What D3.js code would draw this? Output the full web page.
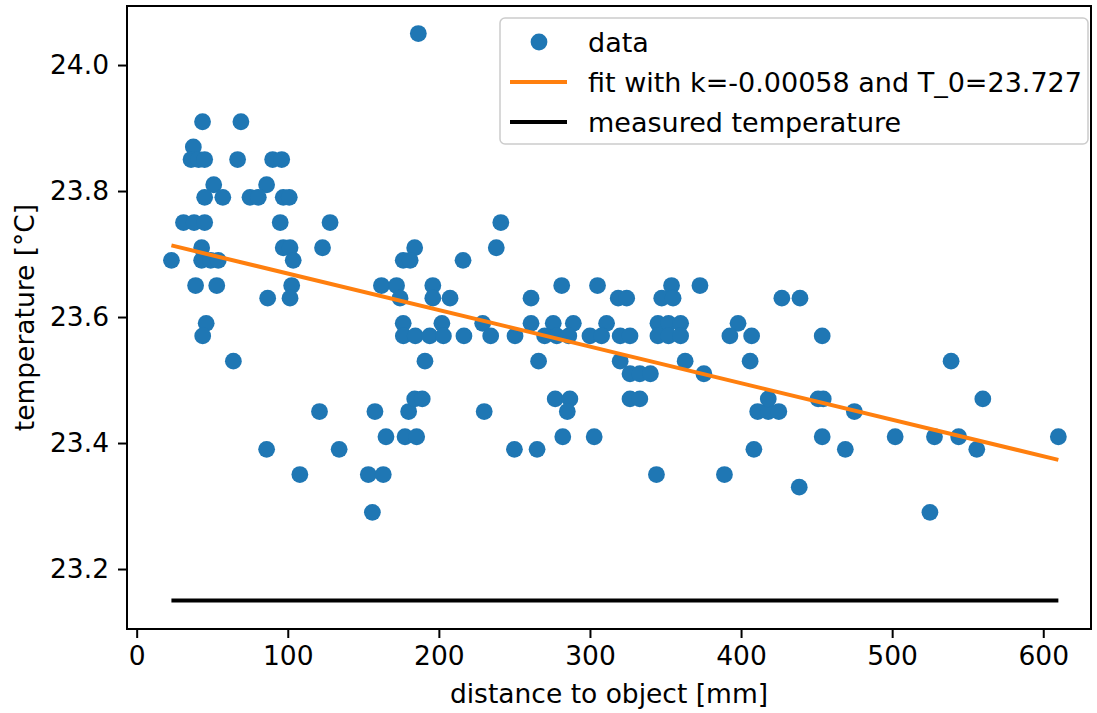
<!DOCTYPE html>
<html>
<head>
<meta charset="utf-8">
<script src="https://cdn.jsdelivr.net/npm/d3@7"></script>
<style>
  html, body { margin: 0; padding: 0; background: #fff; }
  svg { display: block; font-family: "DejaVu Sans", sans-serif; }
</style>
</head>
<body>
<svg id="chart" width="1097" height="713"></svg>
<script>
// Measured points: distance to object [mm] and temperature [°C]
const distance = [
  23, 37.5, 36, 41, 45, 43.6, 69, 66.8, 90, 96,
  51, 86, 45, 57, 75, 80.5, 97, 101, 31, 38,
  45, 95, 128, 43, 97, 101.5, 123, 43, 49, 54,
  103.6, 39, 53, 102.6, 86.7, 101.5, 46, 43.7, 64, 121,
  86, 108,
  186.4, 241, 238, 184, 176.4, 181, 216, 162, 172, 174.3,
  196, 196, 207.4, 176.4, 202, 229, 176.5, 184.4, 194, 203,
  216.6, 234.3, 250.4, 190.8, 157.7, 180, 184, 189, 230, 165,
  177.6, 185.3, 134, 153.3, 163.2, 156,
  261, 281.3, 305, 318.7, 324.3, 354, 347.5, 355, 372.8, 261,
  275.7, 289, 270, 278, 286, 311, 300, 307.7, 320, 326.5,
  345, 352, 360, 345, 352, 360, 398, 392.6, 407, 266,
  320, 363, 406, 326.5, 333, 340, 375.4, 277, 286.7, 285,
  326.5, 333, 282, 302.8, 250, 265, 408.5, 344, 389,
  427, 439, 453.7, 539, 411, 418, 425, 418, 451, 454.4,
  475, 560, 453.7, 469, 502, 528, 544, 556, 610, 438.5,
  525
];
const temperature = [
  23.69, 23.87, 23.85, 23.85, 23.85, 23.91, 23.91, 23.85, 23.85, 23.85,
  23.81, 23.81, 23.79, 23.79, 23.79, 23.79, 23.79, 23.79, 23.75, 23.75,
  23.75, 23.75, 23.75, 23.71, 23.71, 23.71, 23.71, 23.69, 23.69, 23.69,
  23.69, 23.65, 23.65, 23.65, 23.63, 23.63, 23.59, 23.57, 23.53, 23.45,
  23.39, 23.35,
  24.05, 23.75, 23.71, 23.71, 23.69, 23.69, 23.69, 23.65, 23.65, 23.63,
  23.65, 23.63, 23.63, 23.59, 23.59, 23.59, 23.57, 23.57, 23.57, 23.57,
  23.57, 23.57, 23.57, 23.53, 23.45, 23.45, 23.47, 23.47, 23.45, 23.41,
  23.41, 23.41, 23.39, 23.35, 23.35, 23.29,
  23.63, 23.65, 23.65, 23.63, 23.63, 23.65, 23.63, 23.63, 23.65, 23.59,
  23.59, 23.59, 23.57, 23.57, 23.57, 23.59, 23.57, 23.57, 23.57, 23.57,
  23.59, 23.59, 23.59, 23.57, 23.57, 23.57, 23.59, 23.57, 23.57, 23.53,
  23.53, 23.53, 23.53, 23.51, 23.51, 23.51, 23.51, 23.47, 23.47, 23.45,
  23.47, 23.47, 23.41, 23.41, 23.39, 23.39, 23.39, 23.35, 23.35,
  23.63, 23.63, 23.57, 23.53, 23.45, 23.45, 23.45, 23.47, 23.47, 23.47,
  23.45, 23.47, 23.41, 23.39, 23.41, 23.41, 23.41, 23.39, 23.41, 23.33,
  23.29
];

// Linear fit T = T_0 + k * d and the reference temperature
const fitK = -0.00058;
const fitT0 = 23.727;
const lineRange = [23, 610];
const measuredTemp = 23.15;

const xTicks = [0, 100, 200, 300, 400, 500, 600];
const yTicks = [23.2, 23.4, 23.6, 23.8, 24.0];

const legendLabels = [
  "data",
  "fit with k=-0.00058 and T_0=23.727",
  "measured temperature"
];

const blue = "#1f77b4", orange = "#ff7f0e";

const svg = d3.select("#chart");
const plot = { left: 127, right: 1091, top: 6, bottom: 629 };

const x = d3.scaleLinear().domain([-6.4, 631.6]).range([plot.left, plot.right]);
const y = d3.scaleLinear().domain([23.1048, 24.0937]).range([plot.bottom, plot.top]);

// Data points
const points = distance.map((d, i) => ({ d, t: temperature[i] }));
svg.append("g")
  .selectAll("circle")
  .data(points)
  .join("circle")
  .attr("cx", p => x(p.d))
  .attr("cy", p => y(p.t))
  .attr("r", 8.4)
  .attr("fill", blue);

const line = d3.line().x(p => x(p[0])).y(p => y(p[1]));

// Fit line
const fitPts = lineRange.map(d => [d, fitT0 + fitK * d]);
svg.append("path")
  .attr("d", line(fitPts))
  .attr("fill", "none")
  .attr("stroke", orange)
  .attr("stroke-width", 4);

// Measured temperature line
const measPts = lineRange.map(d => [d, measuredTemp]);
svg.append("path")
  .attr("d", line(measPts))
  .attr("fill", "none")
  .attr("stroke", "#000")
  .attr("stroke-width", 4);

// Axes
const xAxis = d3.axisBottom(x).tickValues(xTicks).tickFormat(d3.format("d"))
  .tickSize(9).tickPadding(8);
const yAxis = d3.axisLeft(y).tickValues(yTicks).tickFormat(d3.format(".1f"))
  .tickSize(9).tickPadding(9);

const gx = svg.append("g").attr("transform", `translate(0,${plot.bottom})`).call(xAxis);
const gy = svg.append("g").attr("transform", `translate(${plot.left},0)`).call(yAxis);
[gx, gy].forEach(g => {
  g.select(".domain").remove();
  g.selectAll(".tick line").attr("stroke", "#000").attr("stroke-width", 2);
  g.selectAll(".tick text")
    .attr("fill", "#000")
    .style("font-size", "26.5px")
    .style("font-family", "DejaVu Sans");
});

// Frame
svg.append("rect")
  .attr("x", plot.left).attr("y", plot.top)
  .attr("width", plot.right - plot.left).attr("height", plot.bottom - plot.top)
  .attr("fill", "none").attr("stroke", "#000").attr("stroke-width", 2);

// Axis titles
svg.append("text")
  .attr("x", (plot.left + plot.right) / 2).attr("y", 703)
  .attr("text-anchor", "middle")
  .style("font-size", "26.5px")
  .text("distance to object [mm]");

svg.append("text")
  .attr("transform", `translate(34,${(plot.top + plot.bottom) / 2}) rotate(-90)`)
  .attr("text-anchor", "middle")
  .style("font-size", "26.5px")
  .text("temperature [°C]");

// Legend
const lg = svg.append("g");
lg.append("rect")
  .attr("x", 500).attr("y", 18).attr("width", 588).attr("height", 126)
  .attr("rx", 5)
  .attr("fill", "#fff").attr("fill-opacity", 0.8)
  .attr("stroke", "#ccc").attr("stroke-width", 1.5);

const rowY = [42, 82, 122];
lg.append("circle").attr("cx", 539).attr("cy", rowY[0]).attr("r", 8.4).attr("fill", blue);
lg.append("line").attr("x1", 510).attr("x2", 567).attr("y1", rowY[1]).attr("y2", rowY[1])
  .attr("stroke", orange).attr("stroke-width", 4);
lg.append("line").attr("x1", 510).attr("x2", 567).attr("y1", rowY[2]).attr("y2", rowY[2])
  .attr("stroke", "#000").attr("stroke-width", 4);

lg.selectAll("text.lbl")
  .data(legendLabels)
  .join("text")
  .attr("class", "lbl")
  .attr("x", 588)
  .attr("y", (d, i) => rowY[i])
  .attr("dy", "0.36em")
  .style("font-size", "27px")
  .text(d => d);
</script>
</body>
</html>
